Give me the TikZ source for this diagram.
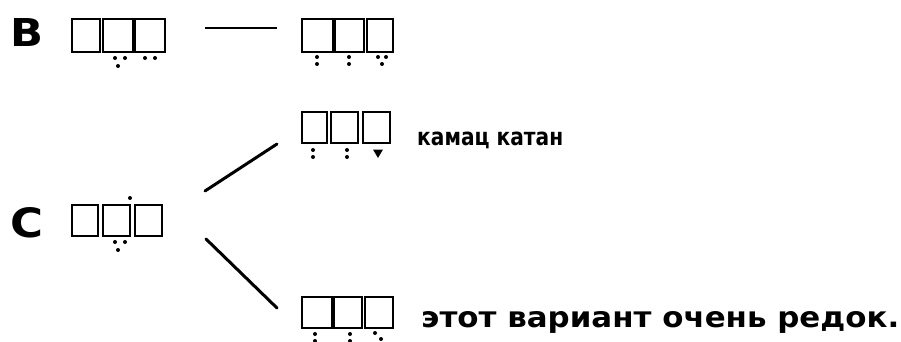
\documentclass[tikz,border=0pt]{standalone}
\usepackage{fontspec}
\setmainfont{DejaVu Sans}
\begin{document}
\begin{tikzpicture}[x=1pt,y=-1pt,
  cell/.style={draw=black,line width=1.8pt},
  pt/.style={fill=black},
  conn/.style={draw=black,line width=3pt,line cap=round},
  lbl/.style={inner sep=0pt,anchor=base west,font=\bfseries}]
\useasboundingbox (0,0) rectangle (901,342);
% letters
\node[lbl] (B) at (10,46.5) {\resizebox{33pt}{28pt}{B}};
\node[lbl] (C) at (10,237) {\resizebox{33pt}{30pt}{C}};
% B row, left group
\draw[cell] (72,19) rectangle (100,52);
\draw[cell] (103,19) rectangle (133,52);
\draw[cell] (135,19) rectangle (165,52);
\foreach \p in {(115,58),(125,58),(118,66),(145,58),(155,58)} \fill[pt] \p circle (2);
% dash
\coordinate (d1) at (205,28);
\coordinate (d2) at (277,28);
\draw[conn,line width=2.4pt,line cap=butt] (d1) -- (d2);
% B row, right group
\draw[cell] (302,19) rectangle (333,52);
\draw[cell] (335,19) rectangle (364,52);
\draw[cell] (367,19) rectangle (393,52);
\foreach \p in {(317,57),(317,64),(349,57),(349,64),(378,57),(386,57),(382,64)} \fill[pt] \p circle (2);
% kamats row
\draw[cell] (302,112) rectangle (327,143);
\draw[cell] (331,112) rectangle (358,143);
\draw[cell] (363,112) rectangle (390,143);
\foreach \p in {(313,150),(313,157),(347,150),(347,157)} \fill[pt] \p circle (2);
\fill[pt] (373,149.5) -- (383,149.5) -- (378,158) -- cycle;
\node[lbl] (k) at (417,145) {\resizebox{146pt}{13.5pt}{камац катан}};
% C row
\draw[cell] (72,205) rectangle (98,236);
\draw[cell] (103,205) rectangle (130,236);
\draw[cell] (135,205) rectangle (162,236);
\foreach \p in {(130,198),(115,242),(125,242),(118,250)} \fill[pt] \p circle (2);
% bottom row
\draw[cell] (302,297) rectangle (332,328);
\draw[cell] (334,297) rectangle (362,328);
\draw[cell] (365,297) rectangle (393,328);
\foreach \p in {(315,334),(315,341),(350,334),(350,341),(375,333),(381,339)} \fill[pt] \p circle (2);
\node[lbl] (r) at (421,327.5) {\resizebox{478pt}{16pt}{этот вариант очень редок.}};
% connectors
\coordinate (a1) at (205,191);
\coordinate (a2) at (277,144);
\coordinate (b1) at (206,239);
\coordinate (b2) at (277,308);
\draw[conn] (a1) -- (a2);
\draw[conn] (b1) -- (b2);
\end{tikzpicture}
\end{document}
